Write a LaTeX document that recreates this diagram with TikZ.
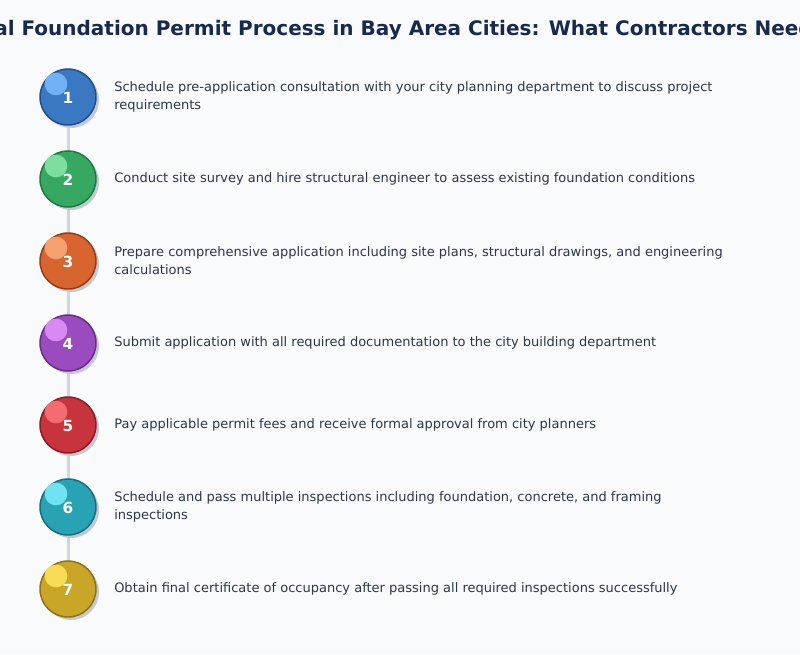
\documentclass[tikz,border=0pt]{standalone}
\usepackage{fontspec}
\setmainfont{DejaVu Sans}
\definecolor{bgc}{HTML}{F8FAFC}
\definecolor{titlec}{HTML}{172A4D}
\definecolor{textc}{HTML}{2D3748}
\definecolor{linec}{HTML}{D0D6E0}
\definecolor{shadowc}{HTML}{C3C8D2}
\definecolor{fa}{HTML}{3A78C2}\definecolor{da}{HTML}{1D4E8F}\definecolor{ha}{HTML}{70B2F6}
\definecolor{fb}{HTML}{37A862}\definecolor{db}{HTML}{1C7A40}\definecolor{hb}{HTML}{7DDEA0}
\definecolor{fc}{HTML}{D6652F}\definecolor{dc}{HTML}{9A3A12}\definecolor{hc}{HTML}{F6A070}
\definecolor{fd}{HTML}{9A4CBE}\definecolor{dd}{HTML}{6A2A8A}\definecolor{hd}{HTML}{D88AF2}
\definecolor{fe}{HTML}{C8343E}\definecolor{de}{HTML}{8C1A22}\definecolor{he}{HTML}{F26C72}
\definecolor{ff}{HTML}{27A3B4}\definecolor{df}{HTML}{156F7D}\definecolor{hf}{HTML}{70E2F0}
\definecolor{fg}{HTML}{C9A627}\definecolor{dg}{HTML}{8C7212}\definecolor{hg}{HTML}{F8DC58}
\begin{document}
\begin{tikzpicture}[x=0.75pt,y=-0.75pt, font=\fontsize{9.75}{13.5}\selectfont, line join=round, line cap=round,
stepdot/.style={circle, minimum size=42pt, inner sep=0pt, line width=1.1pt},
steptext/.style={anchor=west, align=left, text=textc, inner sep=0pt}]
\useasboundingbox[fill=bgc] (0,0) rectangle (800,654);
\node[anchor=base, text=titlec, font=\bfseries\fontsize{15}{18}\selectfont] (title) at (400,35) {Residential Foundation Permit Process in Bay Area Cities: What Contractors Need to Know};
% timeline
\foreach \i in {1,...,7} \coordinate (c\i) at (68,{97+82*(\i-1)});
\draw[linec, line width=2.25pt, line cap=butt] (c1)--(c7);
\foreach \i/\f/\d/\h in {1/fa/da/ha,2/fb/db/hb,3/fc/dc/hc,4/fd/dd/hd,5/fe/de/he,6/ff/df/hf,7/fg/dg/hg}{
\fill[shadowc] ([shift={(3,3)}]c\i) circle (21pt);
\node[stepdot, fill=\f, draw=\d] (s\i) at (c\i) {};
\fill[\h] ([shift={(-12,-13)}]c\i) circle (8.5pt);
\node[text=white, font=\bfseries\fontsize{11.5}{13}\selectfont] (n\i) at ([shift={(0,1)}]c\i) {\i};
}
\node[steptext] (t1) at (114,97) {Schedule pre-application consultation with your city planning department to discuss project\\requirements};
\node[steptext] (t2) at (114,179) {Conduct site survey and hire structural engineer to assess existing foundation conditions};
\node[steptext] (t3) at (114,261) {Prepare comprehensive application including site plans, structural drawings, and engineering\\calculations};
\node[steptext] (t4) at (114,343) {Submit application with all required documentation to the city building department};
\node[steptext] (t5) at (114,425) {Pay applicable permit fees and receive formal approval from city planners};
\node[steptext] (t6) at (114,507) {Schedule and pass multiple inspections including foundation, concrete, and framing\\inspections};
\node[steptext] (t7) at (114,589) {Obtain final certificate of occupancy after passing all required inspections successfully};
\end{tikzpicture}
\end{document}
